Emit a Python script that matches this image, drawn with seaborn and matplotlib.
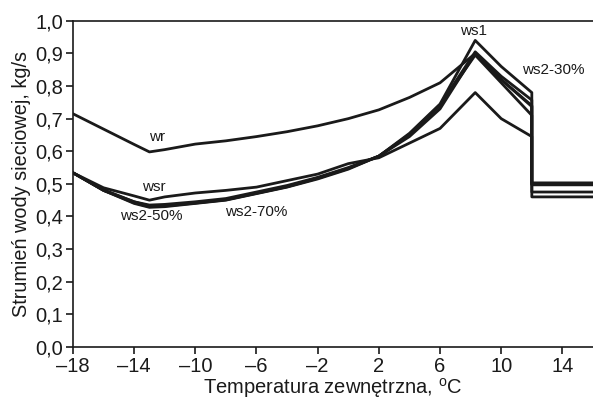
import pandas as pd
import seaborn as sns
import matplotlib.pyplot as plt
from matplotlib.ticker import FuncFormatter

# temperatures (12 appears twice: vertical drop at end of heating season)
temp = [-18, -16, -14, -13, -12, -10, -8, -6, -4, -2, 0, 2, 4, 6, 8.3, 10, 12, 12, 16]

wr = [0.715, 0.668, 0.621, 0.598, 0.605, 0.622, 0.632, 0.645, 0.66, 0.678, 0.70, 0.727, 0.765, 0.81, 0.90, 0.82, 0.74, 0.503, 0.503]
wsr = [0.534, 0.488, 0.463, 0.45, 0.46, 0.472, 0.48, 0.49, 0.51, 0.53, 0.562, 0.58, 0.625, 0.67, 0.78, 0.70, 0.645, 0.46, 0.46]
ws1 = [0.534, 0.48, 0.445, 0.432, 0.434, 0.442, 0.452, 0.472, 0.492, 0.518, 0.548, 0.585, 0.655, 0.745, 0.94, 0.86, 0.78, 0.497, 0.497]
ws2_30 = [0.534, 0.48, 0.442, 0.43, 0.432, 0.441, 0.451, 0.471, 0.491, 0.517, 0.547, 0.585, 0.652, 0.742, 0.905, 0.83, 0.757, 0.50, 0.50]
ws2_50 = [0.534, 0.48, 0.44, 0.428, 0.43, 0.44, 0.45, 0.47, 0.49, 0.515, 0.545, 0.585, 0.65, 0.74, 0.895, 0.81, 0.71, 0.475, 0.475]
ws2_70 = [0.534, 0.482, 0.445, 0.435, 0.437, 0.445, 0.455, 0.475, 0.495, 0.52, 0.55, 0.585, 0.645, 0.73, 0.90, 0.82, 0.737, 0.50, 0.50]

series = {'wr': wr, 'wsr': wsr, 'ws1': ws1, 'ws2-30%': ws2_30, 'ws2-50%': ws2_50, 'ws2-70%': ws2_70}

# label positions for the series names
labels = ['wr', 'wsr', 'ws2-50%', 'ws2-70%', 'ws1', 'ws2-30%']
label_x = [-12.5, -12.7, -12.9, -6.0, 8.2, 13.4]
label_y = [0.645, 0.49, 0.40, 0.415, 0.97, 0.85]

rows = []
for name, vals in series.items():
    for i, (t, v) in enumerate(zip(temp, vals)):
        rows.append({'seria': name, 'temp': t, 'strumien': v, 'idx': i})
df = pd.DataFrame(rows)

sns.set_style('ticks')
plt.rcParams['font.family'] = ['Liberation Sans', 'DejaVu Sans']
plt.rcParams['mathtext.fontset'] = 'custom'
plt.rcParams['mathtext.rm'] = 'Liberation Sans'

fig = plt.figure(figsize=(5.93, 4.01), dpi=100)
ax = fig.add_axes([0.123, 0.135, 0.877, 0.813])

sns.lineplot(data=df, x='temp', y='strumien', hue='seria', units='seria',
             estimator=None, sort=False, palette=['#1a1a1a'] * 6,
             linewidth=2.0, legend=False, ax=ax)

for lab, lx, ly in zip(labels, label_x, label_y):
    ax.text(lx, ly, lab, ha='center', va='center', fontsize=11, color='#1a1a1a')

ax.set_xlim(-18, 16)
ax.set_ylim(0, 1.0)
ax.set_xticks(range(-18, 15, 4))
ax.set_yticks([i / 10 for i in range(11)])
ax.yaxis.set_major_formatter(FuncFormatter(lambda v, p: f'{v:.1f}'.replace('.', ',')))
ax.xaxis.set_major_formatter(FuncFormatter(lambda v, p: f'{int(v)}'.replace('-', '\u2013')))
ax.tick_params(labelsize=14.5, length=5, width=1.2, color='#1a1a1a', labelcolor='#1a1a1a', pad=2)
for s in ['left', 'bottom', 'top']:
    ax.spines[s].set_linewidth(1.2)
    ax.spines[s].set_color('#1a1a1a')
ax.spines['right'].set_visible(False)

ax.set_xlabel(r'Temperatura zewnętrzna, $^{\mathrm{o}}$C', fontsize=14.5, color='#1a1a1a', labelpad=0)
ax.set_ylabel('Strumień wody sieciowej, kg/s', fontsize=14.3, color='#1a1a1a', labelpad=3)

plt.savefig('out.png', dpi=100)
